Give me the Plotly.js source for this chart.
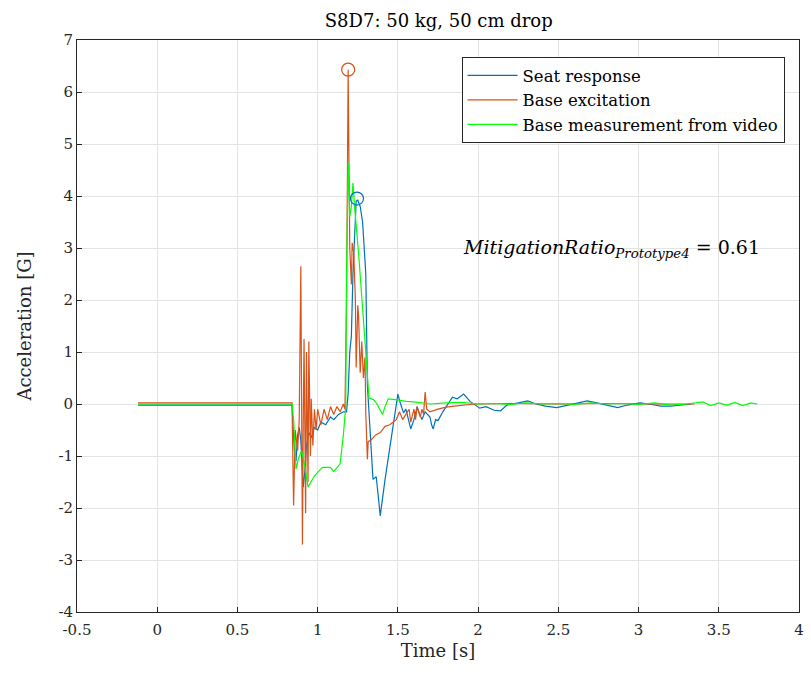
<!DOCTYPE html>
<html>
<head>
<meta charset="utf-8">
<script src="https://cdn.plot.ly/plotly-3.0.1.min.js"></script>
<style>html,body{margin:0;padding:0;background:#fff}#chart{width:811px;height:679px}</style>
</head>
<body>
<div id="chart"></div>
<script>
// Seat response (blue)
const seatX = [-0.12,0.2,0.5,0.84,0.855,0.865,0.875,0.885,0.895,0.91,0.92,0.93,0.945,0.96,0.98,1.0,1.02,1.05,1.08,1.1,1.13,1.16,1.18,1.19,1.2,1.21,1.22,1.23,1.24,1.25,1.265,1.28,1.29,1.3,1.31,1.33,1.345,1.365,1.39,1.42,1.44,1.48,1.5,1.515,1.535,1.55,1.58,1.6,1.62,1.635,1.65,1.67,1.70,1.71,1.72,1.735,1.75,1.78,1.81,1.84,1.87,1.91,1.95,2.01,2.05,2.1,2.14,2.18,2.25,2.31,2.36,2.42,2.49,2.55,2.62,2.68,2.74,2.8,2.87,2.93,3.01,3.08,3.14,3.2,3.26,3.33];
const seatY = [-0.02,-0.02,-0.02,-0.02,-0.9,-1.1,-0.6,-0.45,-0.7,-1.6,-1.3,-0.8,-0.55,-0.65,-0.45,-0.5,-0.35,-0.4,-0.25,-0.3,-0.2,-0.15,-0.15,0.2,1.0,1.3,2.5,3.3,3.9,3.92,3.8,3.5,3.0,2.5,0.35,-0.8,-1.45,-1.4,-2.15,-1.45,-1.05,-0.17,0.19,0.02,-0.17,-0.1,-0.48,-0.3,-0.05,-0.2,-0.3,-0.15,-0.25,-0.4,-0.48,-0.3,-0.32,-0.15,0.0,0.13,0.1,0.19,0.05,-0.08,-0.05,-0.12,-0.13,-0.02,0.02,0.06,0.0,-0.04,-0.07,-0.03,0.03,0.06,0.02,-0.02,-0.07,-0.02,0.02,-0.01,-0.04,-0.04,-0.02,0.0];

// Base excitation (orange)
const baseX = [-0.12,0.2,0.5,0.84,0.85,0.86,0.875,0.885,0.895,0.905,0.91,0.915,0.925,0.93,0.94,0.945,0.955,0.96,0.97,0.98,0.99,1.0,1.02,1.04,1.06,1.08,1.1,1.12,1.14,1.16,1.17,1.18,1.19,1.195,1.2,1.21,1.215,1.225,1.235,1.24,1.25,1.255,1.265,1.275,1.285,1.295,1.3,1.31,1.315,1.33,1.36,1.39,1.42,1.45,1.49,1.51,1.53,1.55,1.57,1.58,1.6,1.61,1.62,1.64,1.65,1.66,1.67,1.68,1.7,1.75,1.8,1.85,1.9,1.95,2.0,2.2,2.5,2.8,3.1,3.35];
const baseY = [0.02,0.02,0.02,0.02,-1.95,-0.5,-0.9,-0.3,2.65,-2.7,-0.4,1.25,-2.1,1.0,-1.5,1.2,-1.0,0.1,-0.8,-0.1,-0.5,-0.1,-0.4,-0.1,-0.3,-0.05,-0.2,-0.05,-0.15,0.0,-0.1,2.0,6.43,4.0,3.0,2.3,3.1,2.9,2.0,0.7,1.9,1.7,0.6,1.2,0.5,0.9,-0.2,-1.06,-0.72,-0.7,-0.6,-0.55,-0.43,-0.4,-0.3,-0.15,-0.3,-0.2,-0.1,-0.35,-0.1,-0.3,-0.05,-0.25,-0.1,-0.2,0.23,-0.1,-0.15,-0.1,-0.06,-0.04,-0.02,-0.01,0.0,0.01,0.0,0.01,0.0,0.0];

// Base measurement from video (green)
const vidX = [-0.12,0.2,0.5,0.84,0.85,0.865,0.88,0.9,0.92,0.94,0.98,1.03,1.08,1.1,1.14,1.16,1.175,1.18,1.19,1.2,1.21,1.22,1.23,1.255,1.285,1.31,1.32,1.35,1.37,1.39,1.405,1.42,1.44,1.5,1.55,1.6,1.7,1.8,1.9,2.0,2.1,2.2,2.3,2.4,2.5,2.6,2.7,2.8,2.9,3.0,3.1,3.2,3.3,3.4,3.45,3.5,3.55,3.6,3.65,3.7,3.74];
const vidY = [0.0,0.0,0.0,0.0,-0.3,-1.25,-1.05,-0.9,-1.2,-1.6,-1.38,-1.22,-1.22,-1.3,-1.15,-0.6,-0.05,2.5,4.65,3.6,3.8,4.25,3.8,2.9,1.63,0.54,0.12,0.08,0.0,-0.12,-0.2,-0.05,0.1,0.08,0.05,0.04,0.0,0.02,0.03,0.0,0.01,-0.01,0.02,0.0,0.01,-0.01,0.02,0.0,0.01,-0.01,0.02,-0.02,0.0,0.04,-0.03,0.02,-0.02,0.03,-0.03,0.02,0.0];

// Peak markers
const peakX = [1.19, 1.245];
const peakY = [6.43, 3.95];

const xTicks = [-0.5,0,0.5,1,1.5,2,2.5,3,3.5,4];
const xTickText = ["-0.5","0","0.5","1","1.5","2","2.5","3","3.5","4"];
const yTicks = [-4,-3,-2,-1,0,1,2,3,4,5,6,7];
const yTickText = ["-4","-3","-2","-1","0","1","2","3","4","5","6","7"];

const blue = '#0072BD', orange = '#D95319', green = '#00FF00';
const font = 'DejaVu Serif, serif';

const traces = [
  {x: seatX, y: seatY, type:'scatter', mode:'lines', name:'Seat response', line:{color:blue, width:1.2}},
  {x: baseX, y: baseY, type:'scatter', mode:'lines', name:'Base excitation', line:{color:orange, width:1.2}},
  {x: vidX, y: vidY, type:'scatter', mode:'lines', name:'Base measurement from video', line:{color:green, width:1.2}},
  {x: [peakX[0]], y: [peakY[0]], type:'scatter', mode:'markers', showlegend:false,
   marker:{symbol:'circle-open', size:13, color:orange, line:{width:1.2, color:orange}}},
  {x: [peakX[1]], y: [peakY[1]], type:'scatter', mode:'markers', showlegend:false,
   marker:{symbol:'circle-open', size:13, color:blue, line:{width:1.2, color:blue}}}
];

const axisCommon = {
  showgrid:true, gridcolor:'#e3e3e3', gridwidth:1,
  zeroline:false, showline:true, linecolor:'#262626', linewidth:1, mirror:true,
  ticks:'inside', ticklen:5, tickcolor:'#262626',
  tickfont:{family:font, size:15, color:'#262626'}
};

const layout = {
  width:811, height:679,
  margin:{l:77, r:12, t:40, b:67},
  paper_bgcolor:'#fff', plot_bgcolor:'#fff',
  font:{family:font, color:'#262626'},
  title:{text:'S8D7: 50 kg, 50 cm drop', font:{family:font, size:18, color:'#000'}, x:0.541, xanchor:'center', y:0.97, yanchor:'middle'},
  xaxis: Object.assign({}, axisCommon, {range:[-0.5,4], tickvals:xTicks, ticktext:xTickText, ticklabelstandoff:4,
    title:{text:'Time [s]', font:{family:font, size:18, color:'#262626'}, standoff:6}}),
  yaxis: Object.assign({}, axisCommon, {range:[-4,7], tickvals:yTicks, ticktext:yTickText,
    title:{text:'Acceleration [G]', font:{family:font, size:18, color:'#262626'}, standoff:22}}),
  legend:{x:0.98, xanchor:'right', y:0.97, yanchor:'top', bgcolor:'#fff', bordercolor:'#262626', borderwidth:1,
    font:{family:font, size:16.5, color:'#000'}, tracegroupgap:0, itemwidth:50},
  annotations:[{x:2.83, y:3.0, xref:'x', yref:'y', showarrow:false,
    text:'<i>MitigationRatio</i><sub><i>Prototype4</i></sub> = 0.61',
    font:{family:font, size:19, color:'#000'}}]
};

Plotly.newPlot('chart', traces, layout, {displayModeBar:false, staticPlot:true});
</script>
</body>
</html>
